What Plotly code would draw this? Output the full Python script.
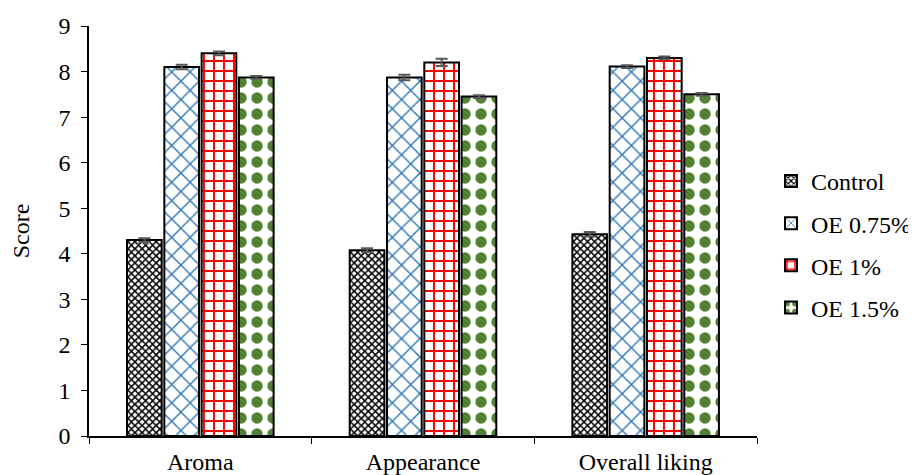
import plotly.graph_objects as go

categories = ["Aroma", "Appearance", "Overall liking"]
series_names = ["Control", "OE 0.75%", "OE 1%", "OE 1.5%"]
control = [4.30, 4.08, 4.43]
oe_075 = [8.10, 7.87, 8.11]
oe_1 = [8.40, 8.20, 8.30]
oe_15 = [7.87, 7.45, 7.50]
err_control = [0.04, 0.04, 0.05]
err_075 = [0.05, 0.06, 0.03]
err_1 = [0.04, 0.08, 0.03]
err_15 = [0.03, 0.03, 0.03]
y_ticks = [0, 1, 2, 3, 4, 5, 6, 7, 8, 9]

values = [control, oe_075, oe_1, oe_15]
errors = [err_control, err_075, err_1, err_15]
patterns = [
    dict(shape="x", fgcolor="black", bgcolor="white", size=5, solidity=0.5, fgopacity=1),
    dict(shape="x", fgcolor="#2E75B6", bgcolor="white", size=13, solidity=0.2, fgopacity=1),
    dict(shape="+", fgcolor="#FF0000", bgcolor="white", size=10, solidity=0.35, fgopacity=1),
    dict(shape=".", fgcolor="#548235", bgcolor="white", size=16, solidity=0.4, fgopacity=1),
]

font_family = "Liberation Serif, Times New Roman, serif"

fig = go.Figure()
for name, vals, errs, pat in zip(series_names, values, errors, patterns):
    fig.add_trace(go.Bar(
        x=categories, y=vals, name=name,
        marker=dict(color="white", line=dict(color="black", width=2), pattern=pat),
        error_y=dict(type="data", array=errs, visible=True, color="#595959", thickness=2, width=6),
        legendgroup=name,
    ))

fig.update_layout(
    width=908, height=467,
    margin=dict(l=81, r=159, t=18, b=39, autoexpand=False),
    paper_bgcolor="white", plot_bgcolor="white",
    barmode="group", bargap=0.33, bargroupgap=0.07,
    font=dict(family=font_family, size=24, color="black"),
    showlegend=True,
    legend=dict(x=1.021, y=0.676, xanchor="left", yanchor="top",
                font=dict(family=font_family, size=24), traceorder="grouped", tracegroupgap=8,
                bgcolor="rgba(0,0,0,0)"),
    xaxis=dict(showline=True, linecolor="black", linewidth=1.5, ticks="outside",
               tickson="boundaries", ticklen=6, tickcolor="black", showgrid=False,
               automargin=False, ticklabelstandoff=3,
               tickfont=dict(family=font_family, size=24)),
    yaxis=dict(range=[0, 9], tickvals=y_ticks, showline=True, linecolor="black", linewidth=1.5,
               ticks="outside", ticklen=6, tickcolor="black", showgrid=False, zeroline=False,
               automargin=False, ticklabelstandoff=6,
               title=dict(text="Score", font=dict(family=font_family, size=24), standoff=22),
               tickfont=dict(family=font_family, size=24)),
)

fig.write_html("out.html")
